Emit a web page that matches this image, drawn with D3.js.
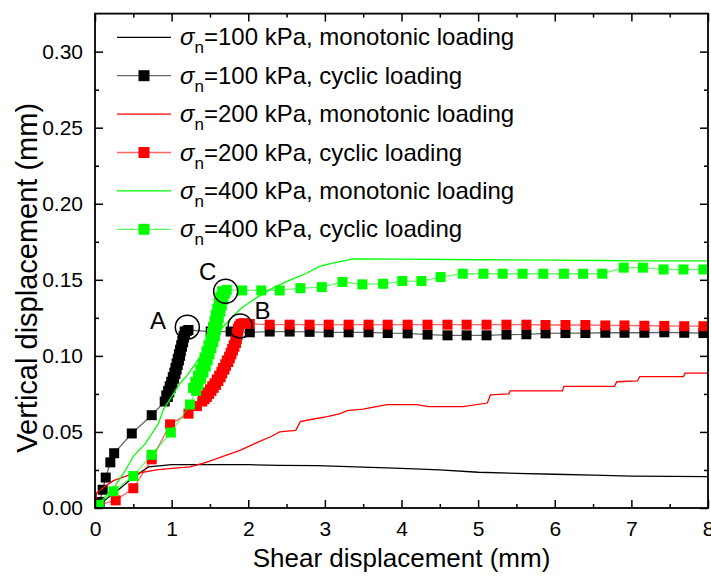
<!DOCTYPE html>
<html>
<head>
<meta charset="utf-8">
<script src="https://cdn.jsdelivr.net/npm/d3@7"></script>
<style>
  html, body { margin: 0; padding: 0; background: #fff; }
  svg text { font-family: "Liberation Sans", Arial, sans-serif; }
</style>
</head>
<body>
<div class="shear"><svg width="711" height="579"></svg></div>
<script>
// tick values
var xTicks = [0, 1, 2, 3, 4, 5, 6, 7, 8];
var xMinor = [0.5, 1.5, 2.5, 3.5, 4.5, 5.5, 6.5, 7.5];
var yTicks = [0, 0.05, 0.10, 0.15, 0.20, 0.25, 0.30];
var yMinor = [0.025, 0.075, 0.125, 0.175, 0.225, 0.275];

// sigma_n = 100 kPa
var mono100 = [[0,0],[0.03,0.001],[0.1,0.004],[0.2,0.008],[0.33,0.013],[0.45,0.018],[0.61,0.024],[0.7,0.027],
    [0.8,0.0275],[1.0,0.0285],[1.5,0.0285],[2.0,0.0285],[2.4,0.028],[2.9,0.0278],[3.4,0.027],[4.0,0.026],
    [4.5,0.025],[5.0,0.0235],[5.5,0.0228],[6.0,0.0222],[6.5,0.0216],[7.0,0.0210],[7.5,0.0208],[8.0,0.0206]];
var cyc100 = [[0,0],[0.03,0.001],[0.06,0.004],[0.1,0.012],[0.14,0.02],[0.2,0.03],[0.25,0.036],[0.48,0.049],
    [0.74,0.061],[0.91,0.07],[0.95,0.073],[0.93,0.074],[0.97,0.076],[0.955,0.077],[0.99,0.079],[0.975,0.08],
    [1.01,0.082],[0.995,0.083],[1.03,0.085],[1.015,0.086],[1.05,0.088],[1.035,0.089],[1.065,0.091],[1.05,0.092],
    [1.08,0.094],[1.065,0.095],[1.095,0.097],[1.08,0.098],[1.11,0.1],[1.095,0.101],[1.12,0.103],[1.11,0.104],
    [1.135,0.106],[1.125,0.107],[1.15,0.109],[1.14,0.11],[1.16,0.112],[1.155,0.113],[1.175,0.115],[1.17,0.116],
    [1.2,0.1165],[1.22,0.117],
    [1.51,0.116],[1.77,0.116],[2.02,0.1155],[2.28,0.116],[2.54,0.116],[2.8,0.1158],[3.05,0.1155],[3.31,0.1155],
    [3.57,0.1155],[3.82,0.115],[4.08,0.1148],[4.34,0.114],[4.6,0.1135],[4.85,0.1135],[5.11,0.1135],[5.37,0.114],
    [5.63,0.1142],[5.88,0.1148],[6.14,0.115],[6.4,0.115],[6.66,0.1152],[6.91,0.1152],[7.17,0.1152],[7.43,0.1155],
    [7.69,0.1152],[7.94,0.115]];

// sigma_n = 200 kPa
var mono200 = [[0,0],[0.02,0.01],[0.1,0.013],[0.24,0.018],[0.46,0.022],[0.8,0.025],[1.0,0.026],[1.24,0.027],
    [1.45,0.030],[1.67,0.034],[1.9,0.038],[2.11,0.043],[2.3,0.047],[2.41,0.050],[2.62,0.051],[2.68,0.0568],
    [2.85,0.0585],[3.03,0.060],[3.2,0.062],[3.29,0.064],[3.5,0.065],[3.81,0.068],[4.2,0.068],[4.35,0.0667],
    [4.8,0.0667],[5.12,0.069],[5.16,0.0743],[5.4,0.075],[5.42,0.077],[6.1,0.077],[6.12,0.080],[6.78,0.080],
    [6.81,0.083],[7.08,0.0835],[7.11,0.0864],[7.68,0.0864],[7.7,0.0886],[8.0,0.0886]];
var cyc200 = [[0,0],[0.05,0.002],[0.27,0.005],[0.5,0.013],[0.74,0.032],[0.98,0.055],[1.22,0.062],[1.33,0.067],
    [1.4,0.070],[1.43,0.0715],[1.41,0.072],[1.46,0.073],[1.44,0.074],[1.49,0.075],[1.47,0.076],[1.52,0.077],
    [1.5,0.078],[1.55,0.079],[1.53,0.08],[1.58,0.081],[1.56,0.082],[1.61,0.0835],[1.59,0.0845],[1.64,0.086],
    [1.62,0.087],[1.66,0.0885],[1.65,0.0895],[1.69,0.091],[1.67,0.092],[1.71,0.0935],[1.7,0.0945],[1.74,0.096],
    [1.72,0.097],[1.76,0.0985],[1.75,0.0995],[1.78,0.101],[1.77,0.102],[1.8,0.1035],[1.79,0.1045],[1.82,0.106],
    [1.81,0.107],[1.84,0.1085],[1.83,0.1095],[1.85,0.111],[1.845,0.112],[1.86,0.1135],[1.855,0.115],[1.87,0.1165],
    [1.865,0.118],[1.88,0.1195],[1.9,0.121],[1.94,0.1215],
    [2.02,0.121],[2.28,0.1205],[2.54,0.1205],[2.8,0.1205],[3.05,0.1205],[3.31,0.1205],[3.57,0.1205],[3.82,0.1205],
    [4.08,0.1205],[4.34,0.1205],[4.6,0.1205],[4.85,0.1205],[5.11,0.1205],[5.37,0.1205],[5.63,0.1205],[5.88,0.1203],
    [6.14,0.1203],[6.4,0.1203],[6.66,0.12],[6.91,0.12],[7.17,0.1198],[7.43,0.1197],[7.69,0.1195],[7.94,0.1195]];

// sigma_n = 400 kPa
var mono400 = [[0,0],[0.09,0.005],[0.27,0.015],[0.4,0.025],[0.5,0.034],[0.66,0.0425],[0.83,0.0557],[0.89,0.0645],
    [1.0,0.073],[1.11,0.082],[1.2,0.087],[1.3,0.094],[1.46,0.106],[1.59,0.113],[1.67,0.119],[1.8,0.126],
    [1.9,0.131],[2.07,0.137],[2.3,0.144],[2.55,0.150],[2.75,0.154],[2.93,0.1588],[3.1,0.161],[3.37,0.1638],
    [4.0,0.1636],[5.0,0.1632],[6.0,0.163],[6.63,0.1627],[7.0,0.1625],[8.0,0.1625]];
var cyc400 = [[0,0],[0.05,0.002],[0.24,0.011],[0.5,0.021],[0.74,0.035],[0.99,0.0496],[1.24,0.068],
    [1.32,0.077],[1.28,0.079],[1.35,0.081],[1.31,0.083],[1.385,0.085],[1.345,0.087],[1.415,0.089],[1.375,0.091],
    [1.445,0.093],[1.405,0.095],[1.47,0.097],[1.43,0.099],[1.495,0.101],[1.455,0.103],[1.52,0.105],[1.48,0.107],
    [1.545,0.109],[1.505,0.111],[1.565,0.113],[1.525,0.115],[1.58,0.117],[1.54,0.119],[1.60,0.121],[1.56,0.123],
    [1.615,0.125],[1.575,0.127],[1.635,0.129],[1.595,0.131],[1.655,0.133],[1.615,0.135],[1.675,0.137],[1.635,0.139],
    [1.70,0.141],[1.66,0.1425],[1.72,0.1434],
    [1.92,0.143],[2.17,0.143],[2.41,0.143],[2.68,0.1445],[2.96,0.1452],[3.23,0.1486],[3.49,0.147],[3.76,0.1474],
    [4.01,0.1492],[4.26,0.1492],[4.51,0.1518],[4.8,0.154],[5.07,0.154],[5.32,0.154],[5.58,0.154],[5.85,0.154],
    [6.12,0.154],[6.37,0.154],[6.62,0.154],[6.9,0.158],[7.15,0.158],[7.42,0.1568],[7.68,0.1568],[7.94,0.1568]];

var series = [
    { label: "=100 kPa, monotonic loading", data: mono100, color: "#000000", cyclic: false },
    { label: "=100 kPa, cyclic loading", data: cyc100, color: "#000000", cyclic: true },
    { label: "=200 kPa, monotonic loading", data: mono200, color: "#ff0000", cyclic: false },
    { label: "=200 kPa, cyclic loading", data: cyc200, color: "#ff0000", cyclic: true },
    { label: "=400 kPa, monotonic loading", data: mono400, color: "#00ff00", cyclic: false },
    { label: "=400 kPa, cyclic loading", data: cyc400, color: "#00ff00", cyclic: true }
];

// circled points A, B, C and their letters
var marks = [
    { name: "A", at: [1.205, 0.1189], text: [0.822, 0.1178] },
    { name: "B", at: [1.894, 0.1197], text: [2.187, 0.1243] },
    { name: "C", at: [1.705, 0.1425], text: [1.469, 0.1497] }
];

(function () {
    var svg = d3.select(".shear").select("svg");
    var left = 95, right = 708, top = 13.6, bottom = 508;
    var x = d3.scaleLinear().domain([0, 8]).range([left, right]);
    var y = d3.scaleLinear().domain([0, 0.325]).range([bottom, top]);
    var markSize = 10;

    svg.append("clipPath").attr("id", "plotClip")
        .append("rect")
        .attr("x", left).attr("y", top)
        .attr("width", right - left).attr("height", bottom - top);

    /*
        Series
    */
    var line = d3.line()
        .x(function (d) { return x(d[0]); })
        .y(function (d) { return y(d[1]); });

    var plot = svg.append("g").attr("clip-path", "url(#plotClip)");
    series.forEach(function (s) {
        var g = plot.append("g").attr("class", "series");
        g.append("path")
            .attr("d", line(s.data))
            .attr("fill", "none")
            .attr("stroke", s.color)
            .attr("stroke-opacity", s.cyclic ? 0.6 : 1)
            .attr("stroke-width", 1.3);
        if (s.cyclic) {
            g.selectAll("rect").data(s.data).enter().append("rect")
                .attr("x", function (d) { return x(d[0]) - markSize / 2; })
                .attr("y", function (d) { return y(d[1]) - markSize / 2; })
                .attr("width", markSize)
                .attr("height", markSize)
                .attr("fill", s.color);
        }
    });

    /*
        Annotations
    */
    svg.selectAll("circle.mark").data(marks).enter().append("circle")
        .attr("class", "mark")
        .attr("cx", function (d) { return x(d.at[0]); })
        .attr("cy", function (d) { return y(d.at[1]); })
        .attr("r", 12)
        .attr("fill", "none")
        .attr("stroke", "black")
        .attr("stroke-width", 1.5);
    svg.selectAll("text.markLabel").data(marks).enter().append("text")
        .attr("class", "markLabel")
        .attr("x", function (d) { return x(d.text[0]); })
        .attr("y", function (d) { return y(d.text[1]); })
        .attr("text-anchor", "middle")
        .attr("font-size", 24)
        .text(function (d) { return d.name; });

    /*
        Axes
    */
    var fmt = d3.format(".2f");
    svg.append("g").attr("transform", "translate(0," + bottom + ")")
        .call(d3.axisBottom(x).tickValues(xTicks).tickSize(-8).tickSizeOuter(0).tickPadding(13).tickFormat(d3.format("d")))
        .attr("font-size", 21);
    svg.append("g").attr("transform", "translate(0," + bottom + ")")
        .call(d3.axisBottom(x).tickValues(xMinor).tickSize(-4).tickSizeOuter(0).tickFormat(""));
    svg.append("g").attr("transform", "translate(0," + top + ")")
        .call(d3.axisTop(x).tickValues(xTicks).tickSize(-8).tickSizeOuter(0).tickFormat(""));
    svg.append("g").attr("transform", "translate(0," + top + ")")
        .call(d3.axisTop(x).tickValues(xMinor).tickSize(-4).tickSizeOuter(0).tickFormat(""));

    svg.append("g").attr("transform", "translate(" + left + ",0)")
        .call(d3.axisLeft(y).tickValues(yTicks).tickSize(-8).tickSizeOuter(0).tickPadding(12).tickFormat(fmt))
        .attr("font-size", 21);
    svg.append("g").attr("transform", "translate(" + left + ",0)")
        .call(d3.axisLeft(y).tickValues(yMinor).tickSize(-4).tickSizeOuter(0).tickFormat(""));
    svg.append("g").attr("transform", "translate(" + right + ",0)")
        .call(d3.axisRight(y).tickValues(yTicks).tickSize(-8).tickSizeOuter(0).tickFormat(""));
    svg.append("g").attr("transform", "translate(" + right + ",0)")
        .call(d3.axisRight(y).tickValues(yMinor).tickSize(-4).tickSizeOuter(0).tickFormat(""));

    svg.selectAll(".domain").remove();
    svg.selectAll(".tick line").attr("stroke", "black").attr("stroke-width", 1.5);
    svg.selectAll(".tick text").attr("fill", "black")
        .style("font-family", "'Liberation Sans', Arial, sans-serif");

    svg.append("rect")
        .attr("x", left).attr("y", top)
        .attr("width", right - left).attr("height", bottom - top)
        .attr("fill", "none")
        .attr("stroke", "black")
        .attr("stroke-width", 1.8);

    svg.append("text")
        .attr("x", (left + right) / 2)
        .attr("y", 567)
        .attr("text-anchor", "middle")
        .attr("font-size", 26)
        .text("Shear displacement (mm)");
    svg.append("text")
        .attr("transform", "translate(37," + ((top + bottom) / 2 + 17) + ") rotate(-90)")
        .attr("text-anchor", "middle")
        .attr("font-size", 29)
        .text("Vertical displacement (mm)");

    /*
        Legend
    */
    var legend = svg.selectAll("g.legendRow").data(series).enter().append("g")
        .attr("class", "legendRow")
        .attr("transform", function (d, i) { return "translate(0," + (37.3 + 38.4 * i) + ")"; });
    legend.append("line")
        .attr("x1", 117).attr("x2", 171)
        .attr("y1", 0).attr("y2", 0)
        .attr("stroke", function (d) { return d.color; })
        .attr("stroke-opacity", function (d) { return d.cyclic ? 0.6 : 1; })
        .attr("stroke-width", 1.3);
    legend.filter(function (d) { return d.cyclic; }).append("rect")
        .attr("x", 144 - 5.5).attr("y", -5.5)
        .attr("width", 11).attr("height", 11)
        .attr("fill", function (d) { return d.color; });
    var lt = legend.append("text")
        .attr("x", 180)
        .attr("y", 8)
        .attr("font-size", 24);
    lt.append("tspan").attr("font-style", "italic").text("\u03c3");
    lt.append("tspan").attr("dy", 8).attr("font-size", 17).text("n");
    lt.append("tspan").attr("dy", -8).text(function (d) { return d.label; });
})();
</script>
</body>
</html>
